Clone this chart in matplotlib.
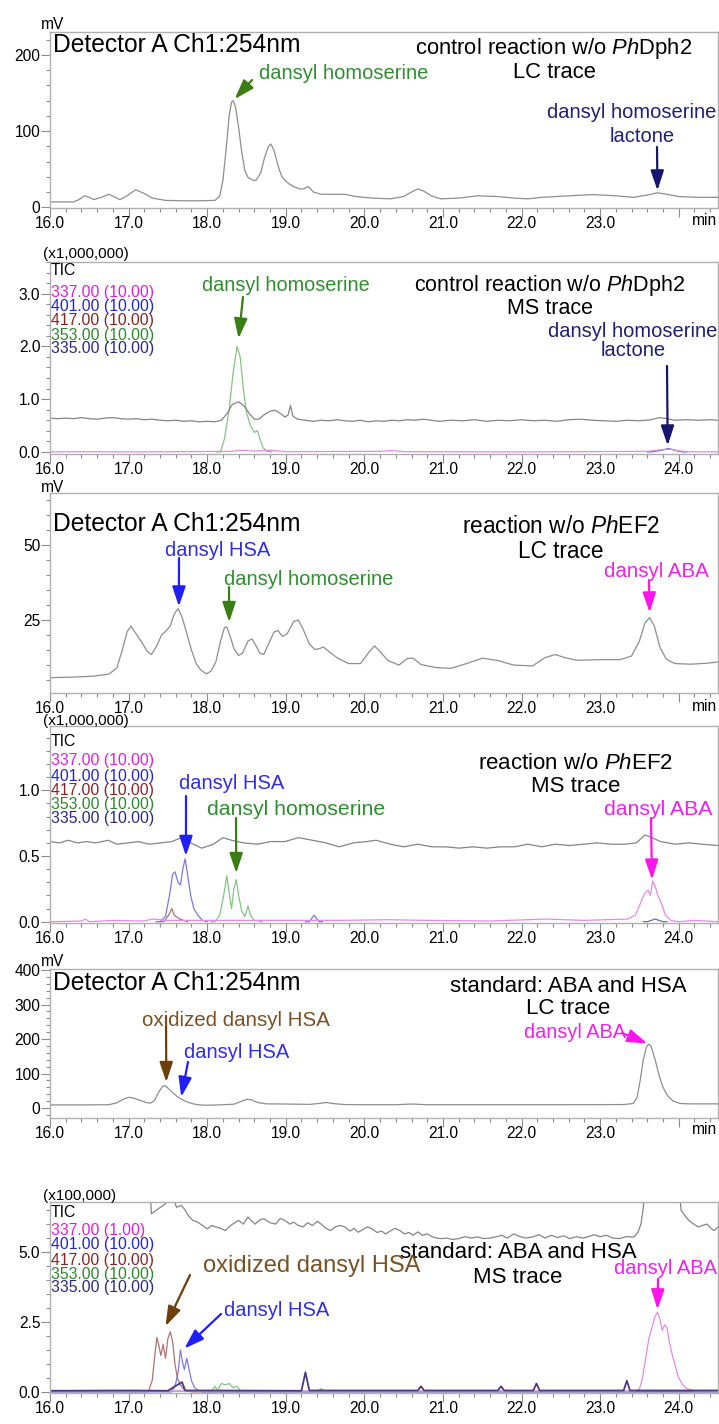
import matplotlib
matplotlib.use('Agg')
import matplotlib.pyplot as plt
from matplotlib.ticker import MultipleLocator, FixedLocator, FormatStrFormatter

plt.rcParams['font.family'] = ['Liberation Sans', 'DejaVu Sans']
plt.rcParams['mathtext.fontset'] = 'custom'
plt.rcParams['mathtext.rm'] = 'Liberation Sans'
plt.rcParams['mathtext.it'] = 'Liberation Sans:italic'

# ---------------- data (time [min], signal) ----------------
x_major = [16, 17, 18, 19, 20, 21, 22, 23, 24]
x_labels_ms = ['16.0', '17.0', '18.0', '19.0', '20.0', '21.0', '22.0', '23.0', '24.0']
x_labels_lc = ['16.0', '17.0', '18.0', '19.0', '20.0', '21.0', '22.0', '23.0', '']
legend_ions = ['TIC', '337.00 (10.00)', '401.00 (10.00)', '417.00 (10.00)', '353.00 (10.00)', '335.00 (10.00)']
legend_ions_std = ['TIC', '337.00 (1.00)', '401.00 (10.00)', '417.00 (10.00)', '353.00 (10.00)', '335.00 (10.00)']

# Panel 1: LC, control reaction w/o PhDph2
lc1 = [(16.0, 7), (16.3, 7), (16.37, 10), (16.44, 15), (16.5, 13), (16.56, 10), (16.65, 13), (16.75, 17),
       (16.83, 13), (16.89, 10), (16.98, 15), (17.09, 23), (17.2, 18), (17.3, 12), (17.47, 9), (17.7, 8.5),
       (17.9, 8.5), (18.1, 9), (18.16, 15), (18.2, 35), (18.24, 75), (18.28, 120), (18.31, 138), (18.33, 140),
       (18.36, 132), (18.4, 105), (18.44, 72), (18.48, 48), (18.52, 39), (18.57, 36), (18.62, 35), (18.68, 45),
       (18.73, 65), (18.78, 80), (18.81, 83), (18.85, 75), (18.9, 55), (18.95, 40), (18.99, 35), (19.05, 30),
       (19.1, 27), (19.18, 24), (19.22, 24), (19.29, 27), (19.35, 20), (19.45, 17), (19.6, 17), (19.75, 17),
       (19.9, 14), (20.1, 12), (20.33, 11), (20.5, 14), (20.6, 20), (20.68, 24), (20.76, 21), (20.85, 15),
       (20.97, 11), (21.2, 12), (21.44, 15), (21.7, 14), (21.9, 12), (22.08, 11), (22.26, 13), (22.6, 15),
       (22.9, 16.6), (23.2, 15), (23.43, 13), (23.6, 16), (23.73, 19), (23.85, 17), (24.0, 14), (24.25, 13),
       (24.5, 13)]

# Panel 2: MS, control reaction w/o PhDph2 (x1,000,000)
tic2 = [(16.0, 0.64), (16.1, 0.63), (16.2, 0.64), (16.3, 0.63), (16.4, 0.65), (16.5, 0.63), (16.6, 0.62),
        (16.7, 0.64), (16.8, 0.65), (16.9, 0.63), (17.0, 0.62), (17.1, 0.63), (17.2, 0.61), (17.3, 0.62),
        (17.4, 0.6), (17.5, 0.59), (17.6, 0.6), (17.7, 0.58), (17.8, 0.59), (17.9, 0.57), (18.0, 0.58),
        (18.1, 0.57), (18.18, 0.6), (18.25, 0.72), (18.32, 0.9), (18.4, 0.95), (18.47, 0.87), (18.54, 0.72),
        (18.6, 0.62), (18.66, 0.62), (18.72, 0.7), (18.8, 0.77), (18.86, 0.79), (18.93, 0.73), (18.99, 0.66),
        (19.03, 0.7), (19.06, 0.88), (19.09, 0.68), (19.15, 0.62), (19.25, 0.6), (19.35, 0.58), (19.45, 0.6),
        (19.55, 0.59), (19.65, 0.61), (19.75, 0.59), (19.85, 0.58), (19.95, 0.6), (20.05, 0.57), (20.15, 0.59),
        (20.25, 0.58), (20.35, 0.6), (20.45, 0.59), (20.55, 0.61), (20.65, 0.6), (20.75, 0.62), (20.85, 0.6),
        (20.95, 0.58), (21.1, 0.6), (21.25, 0.59), (21.4, 0.61), (21.55, 0.58), (21.7, 0.6), (21.85, 0.59),
        (22.0, 0.61), (22.15, 0.59), (22.3, 0.6), (22.45, 0.58), (22.6, 0.61), (22.75, 0.62), (22.9, 0.6),
        (23.05, 0.59), (23.2, 0.58), (23.35, 0.6), (23.5, 0.59), (23.65, 0.61), (23.75, 0.65), (23.85, 0.63),
        (23.95, 0.6), (24.1, 0.61), (24.25, 0.6), (24.4, 0.61), (24.5, 0.6)]
green2 = [(18.12, 0), (18.17, 0), (18.22, 0.25), (18.28, 0.8), (18.33, 1.5), (18.38, 2.0), (18.42, 1.8),
          (18.46, 1.2), (18.5, 0.75), (18.55, 0.5), (18.6, 0.37), (18.64, 0.4), (18.67, 0.25), (18.71, 0.08),
          (18.76, 0.01), (18.82, 0)]
pink2 = [(16.0, 0.0), (16.5, 0.005), (17.0, 0.0), (18.3, 0.01), (18.45, 0.03), (18.6, 0.015), (18.8, 0.03),
         (19.0, 0.005), (20.2, 0.01), (20.35, 0.025), (20.5, 0.005), (22.0, 0.0), (23.6, 0.01), (23.75, 0.035),
         (23.9, 0.05), (24.0, 0.02), (24.1, 0.005), (24.5, 0)]
navy2 = [(23.6, 0.0), (23.65, 0.0), (23.78, 0.03), (23.87, 0.065), (23.95, 0.03), (24.05, 0.0), (24.1, 0.0)]

# Panel 3: LC, reaction w/o PhEF2
lc3 = [(16.0, 5.8), (16.3, 6.0), (16.55, 6.3), (16.75, 7.0), (16.85, 9), (16.92, 15), (16.98, 21), (17.03, 23),
       (17.08, 21), (17.17, 17.5), (17.24, 14.5), (17.29, 13.5), (17.35, 16), (17.42, 20), (17.48, 21.5),
       (17.53, 23), (17.58, 27), (17.63, 28.8), (17.68, 26), (17.73, 21.5), (17.8, 15), (17.86, 10.5),
       (17.92, 8.3), (17.99, 7.1), (18.05, 8), (18.11, 11), (18.17, 18), (18.22, 22.5), (18.25, 22.7),
       (18.3, 19), (18.34, 15.5), (18.4, 13.2), (18.45, 14), (18.52, 18), (18.57, 18.7), (18.62, 16.5),
       (18.67, 14), (18.72, 13.5), (18.78, 17), (18.85, 21), (18.9, 21.5), (18.96, 19.5), (19.02, 20.5),
       (19.1, 24.5), (19.16, 25), (19.22, 22), (19.3, 17), (19.37, 15.2), (19.43, 15.5), (19.48, 16),
       (19.55, 14.5), (19.65, 12.5), (19.8, 10.5), (19.95, 10.5), (20.05, 14), (20.13, 16.4), (20.2, 14.5),
       (20.3, 11.5), (20.44, 10), (20.55, 12.2), (20.62, 12.3), (20.72, 10.2), (20.9, 9.2), (21.1, 8.9),
       (21.3, 10.5), (21.5, 12.3), (21.7, 11.5), (21.9, 10), (22.14, 9.7), (22.3, 12.5), (22.43, 13.5),
       (22.55, 12.5), (22.7, 11.6), (23.0, 11.8), (23.25, 11.8), (23.4, 13), (23.5, 18), (23.57, 24),
       (23.63, 25.8), (23.69, 23), (23.76, 16), (23.84, 12), (23.95, 10.5), (24.15, 10.3), (24.35, 10.6),
       (24.5, 11)]

# Panel 4: MS, reaction w/o PhEF2 (x1,000,000)
tic4 = [(16.0, 0.61), (16.12, 0.6), (16.23, 0.62), (16.35, 0.6), (16.47, 0.61), (16.58, 0.6), (16.74, 0.62),
        (16.85, 0.59), (17.0, 0.6), (17.12, 0.61), (17.26, 0.59), (17.41, 0.6), (17.55, 0.61), (17.67, 0.64),
        (17.79, 0.6), (17.93, 0.56), (18.08, 0.59), (18.2, 0.64), (18.31, 0.62), (18.46, 0.6), (18.64, 0.59),
        (18.81, 0.61), (18.99, 0.61), (19.16, 0.64), (19.34, 0.62), (19.51, 0.6), (19.68, 0.57), (19.86, 0.6),
        (20.03, 0.61), (20.15, 0.62), (20.33, 0.59), (20.5, 0.57), (20.68, 0.59), (20.86, 0.57), (21.03, 0.57),
        (21.21, 0.56), (21.38, 0.57), (21.56, 0.56), (21.73, 0.57), (21.91, 0.57), (22.08, 0.59), (22.26, 0.57),
        (22.43, 0.59), (22.61, 0.58), (22.79, 0.59), (22.96, 0.6), (23.14, 0.59), (23.31, 0.59), (23.46, 0.6),
        (23.57, 0.66), (23.66, 0.64), (23.77, 0.61), (23.95, 0.59), (24.13, 0.6), (24.3, 0.59), (24.5, 0.58)]
blue4 = [(17.35, 0), (17.4, 0), (17.47, 0.04), (17.52, 0.2), (17.56, 0.36), (17.59, 0.38), (17.63, 0.3),
         (17.66, 0.28), (17.69, 0.4), (17.72, 0.48), (17.75, 0.36), (17.79, 0.2), (17.83, 0.1), (17.88, 0.05),
         (17.94, 0.01), (18.0, 0)]
blue4_small = [(19.25, 0), (19.3, 0), (19.36, 0.05), (19.42, 0), (19.47, 0)]
red4 = [(17.4, 0), (17.45, 0), (17.52, 0.06), (17.55, 0.1), (17.58, 0.05), (17.65, 0.02), (17.75, 0.0)]
green4 = [(18.05, 0), (18.1, 0), (18.16, 0.05), (18.21, 0.2), (18.25, 0.35), (18.28, 0.22), (18.31, 0.1),
          (18.34, 0.25), (18.37, 0.32), (18.4, 0.2), (18.44, 0.08), (18.48, 0.04), (18.52, 0.12), (18.55, 0.05),
          (18.6, 0.01), (18.7, 0)]
pink4 = [(16.0, 0.0), (16.4, 0.005), (16.45, 0.02), (16.5, 0.0), (16.8, 0.01), (17.2, 0.005), (17.3, 0.02),
         (17.5, 0.01), (19.1, 0.01), (19.7, 0.01), (20.3, 0.015), (20.8, 0.01), (21.6, 0.005), (22.3, 0.02),
         (22.8, 0.01), (23.35, 0.02), (23.45, 0.05), (23.52, 0.15), (23.57, 0.22), (23.61, 0.24), (23.64, 0.2),
         (23.67, 0.31), (23.7, 0.27), (23.74, 0.19), (23.78, 0.14), (23.83, 0.05), (23.9, 0.01), (24.0, 0.0),
         (24.2, 0.01), (24.5, 0.0)]
navy4 = [(23.55, 0), (23.6, 0), (23.7, 0.02), (23.8, 0), (23.85, 0)]

# Panel 5: LC, standard ABA and HSA
lc5 = [(16.0, 9), (16.5, 9), (16.75, 9.5), (16.85, 15), (16.93, 25), (17.0, 31), (17.06, 29), (17.15, 22),
       (17.22, 16), (17.28, 14), (17.33, 22), (17.38, 45), (17.43, 62), (17.46, 65), (17.5, 58), (17.56, 45),
       (17.62, 33), (17.67, 26), (17.74, 18), (17.82, 12), (17.9, 9), (18.0, 8), (18.2, 9.5), (18.34, 11),
       (18.42, 18), (18.5, 25), (18.56, 24), (18.64, 16), (18.75, 12), (19.0, 11.5), (19.3, 10.5), (19.42, 13),
       (19.51, 16), (19.6, 13), (19.75, 10), (20.0, 9.5), (20.4, 9.5), (20.6, 11.5), (20.8, 9.5), (21.5, 9.5),
       (22.5, 9.5), (23.3, 10), (23.42, 13), (23.47, 30), (23.51, 80), (23.55, 140), (23.59, 178), (23.62, 185),
       (23.65, 178), (23.7, 140), (23.75, 95), (23.8, 60), (23.86, 35), (23.93, 20), (24.02, 13), (24.15, 12),
       (24.5, 12)]

# Panel 6: MS, standard ABA and HSA (x100,000)
tic6 = [(16.0, 7.5), (17.27, 7.5), (17.29, 6.37), (17.38, 6.55), (17.47, 6.73), (17.5, 7.0), (17.56, 7.0),
        (17.61, 6.6), (17.67, 6.67), (17.72, 6.5), (17.76, 6.3), (17.82, 6.13), (17.88, 6.07), (17.94, 5.95),
        (18.0, 5.83), (18.06, 5.95), (18.11, 5.9), (18.17, 5.85), (18.23, 5.77), (18.3, 5.95), (18.35, 6.05),
        (18.4, 6.13), (18.46, 6.0), (18.52, 6.25), (18.57, 6.1), (18.61, 6.0), (18.67, 6.15), (18.72, 6.19),
        (18.8, 6.05), (18.87, 6.0), (18.93, 6.2), (18.99, 6.13), (19.05, 6.0), (19.1, 6.07), (19.16, 5.95),
        (19.22, 5.9), (19.28, 6.05), (19.34, 5.95), (19.4, 6.1), (19.45, 6.0), (19.51, 5.85), (19.57, 5.77),
        (19.63, 5.9), (19.69, 5.95), (19.75, 5.9), (19.82, 5.75), (19.87, 5.85), (19.92, 5.71), (19.98, 5.8),
        (20.04, 5.9), (20.1, 5.83), (20.16, 5.7), (20.22, 5.75), (20.27, 5.65), (20.33, 5.75), (20.39, 5.85),
        (20.45, 5.77), (20.51, 5.65), (20.57, 5.7), (20.62, 5.6), (20.68, 5.72), (20.74, 5.6), (20.8, 5.65),
        (20.86, 5.55), (20.92, 5.5), (20.97, 5.48), (21.05, 5.5), (21.12, 5.45), (21.2, 5.48), (21.28, 5.55),
        (21.36, 5.5), (21.44, 5.54), (21.52, 5.48), (21.6, 5.5), (21.67, 5.54), (21.75, 5.6), (21.82, 5.5),
        (21.9, 5.65), (21.98, 5.55), (22.06, 5.5), (22.14, 5.54), (22.22, 5.62), (22.3, 5.5), (22.38, 5.6),
        (22.46, 5.52), (22.54, 5.58), (22.61, 5.48), (22.7, 5.55), (22.78, 5.5), (22.84, 5.54), (22.92, 5.62),
        (23.0, 5.55), (23.08, 5.6), (23.16, 5.5), (23.25, 5.48), (23.33, 5.55), (23.43, 5.54), (23.48, 5.7),
        (23.52, 6.0), (23.55, 6.6), (23.57, 7.5), (24.0, 7.5), (24.03, 6.5), (24.08, 6.3), (24.13, 6.13),
        (24.19, 6.0), (24.25, 5.9), (24.3, 5.95), (24.36, 6.0), (24.41, 5.85), (24.45, 5.77), (24.5, 5.9)]
red6 = [(16.0, 0), (17.25, 0), (17.3, 0.4), (17.33, 1.2), (17.36, 1.95), (17.39, 1.6), (17.41, 1.3), (17.44, 1.7),
        (17.47, 1.2), (17.5, 1.9), (17.53, 2.15), (17.56, 1.8), (17.59, 1.0), (17.62, 0.5), (17.66, 0.25),
        (17.7, 0.1), (17.76, 0.02), (17.8, 0), (24.5, 0)]
blue6 = [(16.0, 0), (17.55, 0), (17.6, 0.3), (17.63, 0.7), (17.66, 1.5), (17.69, 1.0), (17.71, 0.8), (17.74, 1.2),
         (17.77, 0.8), (17.8, 0.4), (17.84, 0.15), (17.9, 0.03), (17.95, 0), (24.5, 0)]
pink6 = [(16.0, 0.03), (23.45, 0.03), (23.5, 0.1), (23.54, 0.5), (23.58, 1.2), (23.62, 1.9), (23.66, 2.3),
         (23.7, 2.7), (23.73, 2.85), (23.76, 2.6), (23.79, 2.2), (23.82, 2.4), (23.85, 2.3), (23.88, 1.8),
         (23.92, 1.3), (23.96, 0.9), (24.0, 0.5), (24.05, 0.25), (24.1, 0.12), (24.2, 0.04), (24.5, 0.03)]
green6 = [(16.0, 0.02), (18.05, 0.02), (18.1, 0.2), (18.13, 0.05), (18.18, 0.3), (18.23, 0.25), (18.28, 0.3),
          (18.33, 0.15), (18.38, 0.2), (18.42, 0.05), (18.5, 0.02), (19.4, 0.02), (19.45, 0.12), (19.5, 0.02),
          (24.5, 0.02)]
navy6 = [(16.0, 0.04), (17.0, 0.05), (17.5, 0.04), (17.68, 0.35), (17.72, 0.05), (18.0, 0.05), (19.2, 0.04),
         (19.25, 0.7), (19.3, 0.05), (20.68, 0.05), (20.72, 0.2), (20.76, 0.05), (21.7, 0.05), (21.74, 0.2),
         (21.78, 0.05), (22.15, 0.05), (22.19, 0.3), (22.23, 0.05), (23.3, 0.05), (23.34, 0.4), (23.38, 0.05),
         (24.5, 0.05)]

# ---------------- styling ----------------
W, H = 719, 1424
fig = plt.figure(figsize=(W / 100, H / 100), dpi=100)

C_TRACE = '#8e8e8e'
C_PINK, C_BLUE, C_RED, C_GREEN, C_NAVY = '#e58ae5', '#7b7be6', '#b07272', '#86c486', '#6a6aa8'
T_PINK, T_BLUE, T_RED, T_GREEN, T_NAVY = '#e21de2', '#2323d8', '#8b2323', '#2b8a2b', '#2a2a80'
A_GREEN, A_NAVY, A_BLUE, A_MAG, A_BROWN = '#3a7d12', '#16166e', '#1f1fff', '#ff14ee', '#6e3d0c'
TXT_GREEN, TXT_NAVY, TXT_BLUE, TXT_MAG, TXT_BROWN = '#2f8f2f', '#1f1f78', '#2e2ee8', '#ee22ee', '#7c5022'
LEG_COLORS = ['black', T_PINK, T_BLUE, T_RED, T_GREEN, T_NAVY]
FS_TICK = 11.2


def fpos(x, y):
    return x / W, 1 - y / H


def make_ax(top, bottom, ylim, major, minor, fmt, lc):
    ax = fig.add_axes([50 / W, 1 - bottom / H, 668 / W, (bottom - top) / H])
    ax.set_xlim(16, 24.5)
    ax.set_ylim(*ylim)
    ax.xaxis.set_major_locator(FixedLocator(x_major))
    ax.set_xticklabels(x_labels_lc if lc else x_labels_ms)
    ax.xaxis.set_minor_locator(MultipleLocator(0.2))
    ax.yaxis.set_major_locator(MultipleLocator(major))
    ax.yaxis.set_minor_locator(MultipleLocator(minor))
    ax.yaxis.set_major_formatter(FormatStrFormatter(fmt))
    for s in ax.spines.values():
        s.set_color('#b0b0b0')
        s.set_linewidth(1.0)
    ax.tick_params(which='both', direction='out', color='#8c8c8c', width=0.8,
                   labelsize=FS_TICK)
    ax.tick_params(which='major', length=6.5)
    ax.tick_params(which='minor', length=3.2)
    ax.tick_params(axis='x', pad=-0.5)
    ax.tick_params(axis='y', pad=0.5)
    if lc:
        ax.text(24.33, -0.03, 'min', transform=ax.get_xaxis_transform(), ha='center', va='top',
                fontsize=FS_TICK)
    return ax


def trace(ax, pts, color, lw=0.9, z=2):
    t, v = zip(*pts)
    ax.plot(t, v, color=color, lw=lw, zorder=z, solid_joinstyle='round')


def label(txt, x, y, color='black', fs=14.5, ha='center'):
    fig.text(*fpos(x, y), txt, color=color, fontsize=fs, ha=ha, va='baseline')


def arrow(ax, tip, tail, color):
    ax.annotate('', xy=tip, xycoords='data', xytext=fpos(*tail), textcoords='figure fraction',
                arrowprops=dict(arrowstyle='-|>,head_length=0.6,head_width=0.2', color=color,
                                lw=1.6, shrinkA=0, shrinkB=0, mutation_scale=20),
                annotation_clip=False, zorder=6)


def legend(first_baseline, rows, labels):
    for i, (txt, c) in enumerate(zip(labels, LEG_COLORS)):
        fig.text(*fpos(51, first_baseline + rows[i]), txt, color=c, fontsize=11.3, ha='left', va='baseline')


# ---- Panel 1 ----
ax1 = make_ax(32, 208, (-1, 230), 100, 20, '%d', True)
trace(ax1, lc1, C_TRACE)
label('mV', 41, 29, fs=11.2, ha='left')
label('Detector A Ch1:254nm', 53, 52, fs=17.7, ha='left')
label(r'control reaction w/o $\mathit{Ph}$Dph2', 554, 54, fs=15.8)
label('LC trace', 554, 78, fs=15.8)
label('dansyl homoserine', 259, 79, TXT_GREEN, ha='left')
arrow(ax1, (18.35, 142), (252, 80), A_GREEN)
label('dansyl homoserine', 632, 118, TXT_NAVY)
label('lactone', 642, 142, TXT_NAVY)
arrow(ax1, (23.73, 22), (657, 147), A_NAVY)

# ---- Panel 2 ----
ax2 = make_ax(262, 454, (-0.04, 3.6), 1.0, 0.2, '%.1f', False)
trace(ax2, navy2, C_NAVY)
trace(ax2, green2, C_GREEN)
trace(ax2, pink2, C_PINK)
trace(ax2, tic2, '#858585')
fig.text(*fpos(43, 258), '(x1,000,000)', fontsize=11, ha='left', va='baseline')
legend(275, [0, 21.5, 36, 50.5, 65, 78], legend_ions)
label(r'control reaction w/o $\mathit{Ph}$Dph2', 550, 291, fs=15.5)
label('MS trace', 550, 314, fs=15.5)
label('dansyl homoserine', 286, 291, TXT_GREEN, fs=14.3)
arrow(ax2, (18.4, 2.15), (243, 297), A_GREEN)
label('dansyl homoserine', 633, 337, TXT_NAVY)
label('lactone', 633, 356, TXT_NAVY)
arrow(ax2, (23.86, 0.12), (667, 366), A_NAVY)

# ---- Panel 3 ----
ax3 = make_ax(493, 693, (0.7, 67.3), 25, 5, '%d', True)
trace(ax3, lc3, C_TRACE)
label('mV', 41, 492, fs=11.2, ha='left')
label('Detector A Ch1:254nm', 53, 531, fs=17.7, ha='left')
label(r'reaction w/o $\mathit{Ph}$EF2', 561, 533, fs=16.3)
label('LC trace', 561, 558, fs=16.3)
label('dansyl HSA', 218, 556, TXT_BLUE)
arrow(ax3, (17.64, 29.5), (179, 558), A_BLUE)
label('dansyl homoserine', 309, 585, TXT_GREEN)
arrow(ax3, (18.28, 24.3), (229, 587), A_GREEN)
label('dansyl ABA', 656, 577, TXT_MAG, fs=14.8)
arrow(ax3, (23.63, 27.5), (649, 580), A_MAG)

# ---- Panel 4 ----
ax4 = make_ax(726, 923, (-0.01, 1.49), 0.5, 0.1, '%.1f', False)
trace(ax4, navy4, C_NAVY)
trace(ax4, red4, C_RED)
trace(ax4, green4, C_GREEN)
trace(ax4, blue4, C_BLUE)
trace(ax4, blue4_small, C_BLUE)
trace(ax4, pink4, C_PINK)
trace(ax4, tic4, '#858585')
fig.text(*fpos(43, 725), '(x1,000,000)', fontsize=11, ha='left', va='baseline')
legend(745.5, [0, 20, 35, 50, 64, 77.3], legend_ions)
label(r'reaction w/o $\mathit{Ph}$EF2', 576, 769, fs=16.0)
label('MS trace', 576, 792, fs=16.0)
label('dansyl HSA', 232, 789, TXT_BLUE)
arrow(ax4, (17.73, 0.5), (186, 796), A_BLUE)
label('dansyl homoserine', 296, 815, TXT_GREEN, fs=15.3)
arrow(ax4, (18.37, 0.37), (236, 818), A_GREEN)
label('dansyl ABA', 658, 815, TXT_MAG, fs=15.3)
arrow(ax4, (23.66, 0.32), (651, 818), A_MAG)

# ---- Panel 5 ----
ax5 = make_ax(969, 1118, (-29, 403), 100, 20, '%d', True)
trace(ax5, lc5, C_TRACE)
label('mV', 41, 966, fs=11.2, ha='left')
label('Detector A Ch1:254nm', 53, 990, fs=17.7, ha='left')
label('standard: ABA and HSA', 568, 992, fs=16.0)
label('LC trace', 568, 1014, fs=16.0)
label('oxidized dansyl HSA', 236, 1026, TXT_BROWN, fs=14.8)
arrow(ax5, (17.48, 75), (166, 1016), A_BROWN)
label('dansyl HSA', 237, 1058, TXT_BLUE)
arrow(ax5, (17.67, 32), (188, 1062), A_BLUE)
label('dansyl ABA', 575, 1038, TXT_MAG, fs=14.3)
arrow(ax5, (23.6, 187), (622, 1033), A_MAG)

# ---- Panel 6 ----
ax6 = make_ax(1202, 1393, (-0.04, 6.79), 2.5, 0.5, '%.1f', False)
trace(ax6, green6, C_GREEN)
trace(ax6, red6, C_RED)
trace(ax6, blue6, C_BLUE)
trace(ax6, pink6, C_PINK)
trace(ax6, navy6, '#4a3a86', lw=1.3)
trace(ax6, tic6, '#858585')
fig.text(*fpos(43, 1200), '(x100,000)', fontsize=11, ha='left', va='baseline')
legend(1217, [0, 18.3, 32.3, 47.6, 62.3, 75], legend_ions_std)
label('standard: ABA and HSA', 518, 1258, fs=16.0)
label('MS trace', 518, 1283, fs=16.0)
label('oxidized dansyl HSA', 312, 1272, TXT_BROWN, fs=17.0)
arrow(ax6, (17.47, 2.35), (190, 1275), A_BROWN)
label('dansyl HSA', 277, 1316, TXT_BLUE)
arrow(ax6, (17.71, 1.55), (221, 1314), A_BLUE)
label('dansyl ABA', 665, 1274, TXT_MAG)
arrow(ax6, (23.73, 2.95), (658, 1279), A_MAG)

fig.savefig('out.png', dpi=100)
